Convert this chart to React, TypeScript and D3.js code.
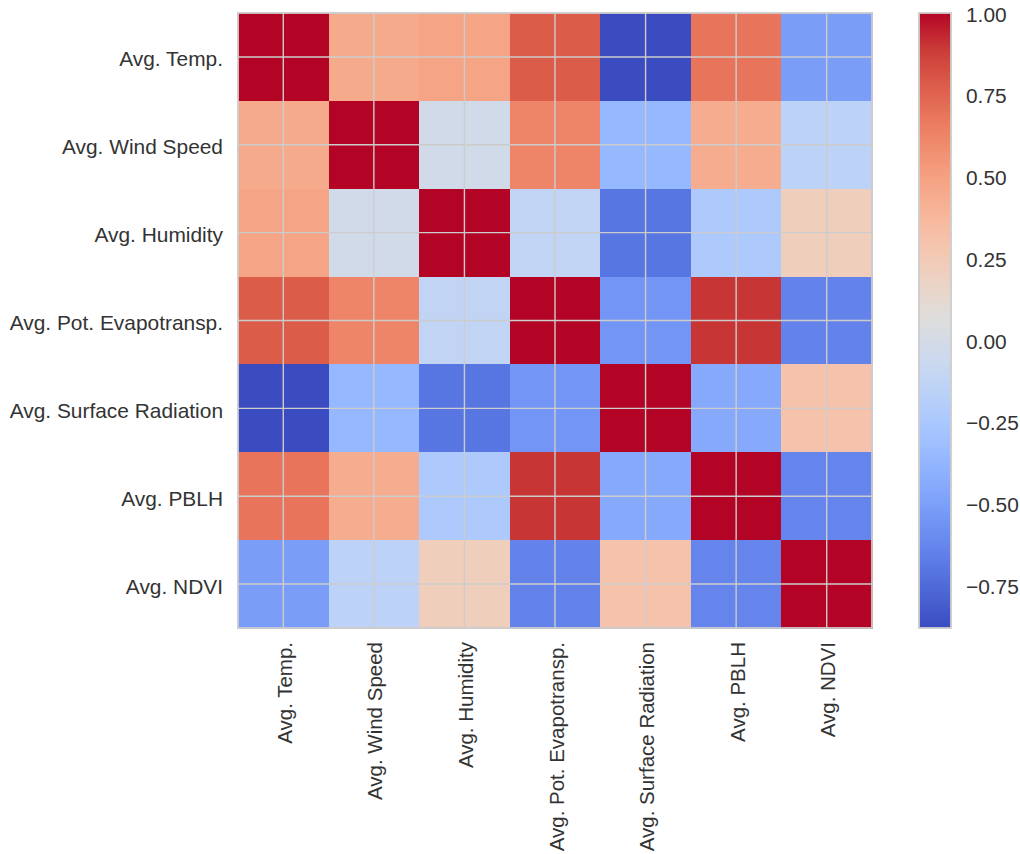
import React from "react";
import * as d3 from "d3";

const labels = [
  "Avg. Temp.",
  "Avg. Wind Speed",
  "Avg. Humidity",
  "Avg. Pot. Evapotransp.",
  "Avg. Surface Radiation",
  "Avg. PBLH",
  "Avg. NDVI",
];

const rowTemp = [1, 0.45, 0.48, 0.78, -0.88, 0.69, -0.51];
const rowWind = [0.45, 1, -0.02, 0.62, -0.36, 0.44, -0.15];
const rowHumidity = [0.48, -0.02, 1, -0.12, -0.7, -0.23, 0.22];
const rowPET = [0.78, 0.62, -0.12, 1, -0.55, 0.9, -0.64];
const rowRadiation = [-0.88, -0.36, -0.7, -0.55, 1, -0.45, 0.3];
const rowPBLH = [0.69, 0.44, -0.23, 0.9, -0.45, 1, -0.63];
const rowNDVI = [-0.51, -0.15, 0.22, -0.64, 0.3, -0.63, 1];

const matrix = [rowTemp, rowWind, rowHumidity, rowPET, rowRadiation, rowPBLH, rowNDVI];

const colorbarTicks = [-0.75, -0.5, -0.25, 0, 0.25, 0.5, 0.75, 1.0];

// matplotlib coolwarm control points (every 1/16)
const coolwarmStops = [
  [0.2298, 0.2987, 0.7537],
  [0.3039, 0.4065, 0.845],
  [0.383, 0.5094, 0.9174],
  [0.4667, 0.6046, 0.9682],
  [0.553, 0.6889, 0.9954],
  [0.6392, 0.7596, 0.9982],
  [0.7222, 0.814, 0.9766],
  [0.7987, 0.8498, 0.9317],
  [0.8654, 0.8654, 0.8654],
  [0.9241, 0.8274, 0.7745],
  [0.9589, 0.7698, 0.678],
  [0.97, 0.6943, 0.5794],
  [0.958, 0.6028, 0.4818],
  [0.9239, 0.4973, 0.388],
  [0.8692, 0.3783, 0.3003],
  [0.7956, 0.2413, 0.2205],
  [0.7057, 0.0156, 0.1502],
].map(([r, g, b]) => d3.rgb(r * 255, g * 255, b * 255).formatHex());

const coolwarm = d3.piecewise(d3.interpolateRgb, coolwarmStops);

const W = 1020;
const H = 854;
const plotLeft = 238;
const plotRight = 872;
const plotTop = 13;
const plotBottom = 628;
const cbLeft = 919;
const cbRight = 951;

const FONT = "'Liberation Sans', Arial, sans-serif";
const TEXT_COLOR = "#333333";
const EDGE = "#cccccc";
const FS = 20.9;
const FSX = 20.5;

export default function App() {
  const n = labels.length;
  const x = d3.scaleBand<number>().domain(d3.range(n)).range([plotLeft, plotRight]).padding(0);
  const y = d3.scaleBand<number>().domain(d3.range(n)).range([plotTop, plotBottom]).padding(0);
  const all = matrix.flat();
  const vmin = d3.min(all) as number;
  const vmax = d3.max(all) as number;
  const norm = d3.scaleLinear().domain([vmin, vmax]).range([0, 1]).clamp(true);
  const color = (v: number) => coolwarm(norm(v));
  const cbY = d3.scaleLinear().domain([vmin, vmax]).range([plotBottom, plotTop]);
  const fmt = (v: number) => d3.format(".2f")(v).replace("-", "\u2212");
  const gradStops = d3.range(0, 1.0001, 1 / 64);

  return (
    <svg
      width={W}
      height={H}
      style={{ position: "absolute", left: 0, top: 0, background: "#fff" }}
      fontFamily={FONT}
    >
      <defs>
        <linearGradient id="cbgrad" x1="0" y1="1" x2="0" y2="0">
          {gradStops.map((t, i) => (
            <stop key={i} offset={t} stopColor={coolwarm(t)} />
          ))}
        </linearGradient>
      </defs>
      <rect x={0} y={0} width={W} height={H} fill="#fff" />
      {matrix.map((row, i) =>
        row.map((v, j) => (
          <rect
            key={`${i}-${j}`}
            x={x(j)}
            y={y(i)}
            width={x.bandwidth() + 0.5}
            height={y.bandwidth() + 0.5}
            fill={color(v)}
            shapeRendering="crispEdges"
          />
        ))
      )}
      {d3.range(n).map((k) => (
        <g key={`g${k}`}>
          <line
            x1={(x(k) as number) + x.bandwidth() / 2}
            x2={(x(k) as number) + x.bandwidth() / 2}
            y1={plotTop}
            y2={plotBottom}
            stroke={EDGE}
            strokeWidth={1.4}
          />
          <line
            y1={(y(k) as number) + y.bandwidth() / 2}
            y2={(y(k) as number) + y.bandwidth() / 2}
            x1={plotLeft}
            x2={plotRight}
            stroke={EDGE}
            strokeWidth={1.4}
          />
        </g>
      ))}
      <rect
        x={plotLeft}
        y={plotTop}
        width={plotRight - plotLeft}
        height={plotBottom - plotTop}
        fill="none"
        stroke={EDGE}
        strokeWidth={1.8}
      />
      {labels.map((l, i) => (
        <text
          key={`yl${i}`}
          x={plotLeft - 15}
          y={(y(i) as number) + y.bandwidth() / 2 + 2}
          textAnchor="end"
          dominantBaseline="central"
          fontSize={FS}
          fill={TEXT_COLOR}
        >
          {l}
        </text>
      ))}
      {labels.map((l, j) => {
        const cx = (x(j) as number) + x.bandwidth() / 2;
        const ty = plotBottom + 14;
        return (
          <text
            key={`xl${j}`}
            transform={`translate(${cx + 1},${ty}) rotate(-90)`}
            textAnchor="end"
            dominantBaseline="central"
            fontSize={FSX}
            fill={TEXT_COLOR}
          >
            {l}
          </text>
        );
      })}
      <rect
        x={cbLeft}
        y={plotTop}
        width={cbRight - cbLeft}
        height={plotBottom - plotTop}
        fill="url(#cbgrad)"
      />
      <rect
        x={cbLeft}
        y={plotTop}
        width={cbRight - cbLeft}
        height={plotBottom - plotTop}
        fill="none"
        stroke={EDGE}
        strokeWidth={1.8}
      />
      {colorbarTicks.map((t) => (
        <text
          key={`cb${t}`}
          x={cbRight + 15}
          y={cbY(t) + 1}
          dominantBaseline="central"
          fontSize={FS}
          fill={TEXT_COLOR}
        >
          {fmt(t)}
        </text>
      ))}
    </svg>
  );
}
